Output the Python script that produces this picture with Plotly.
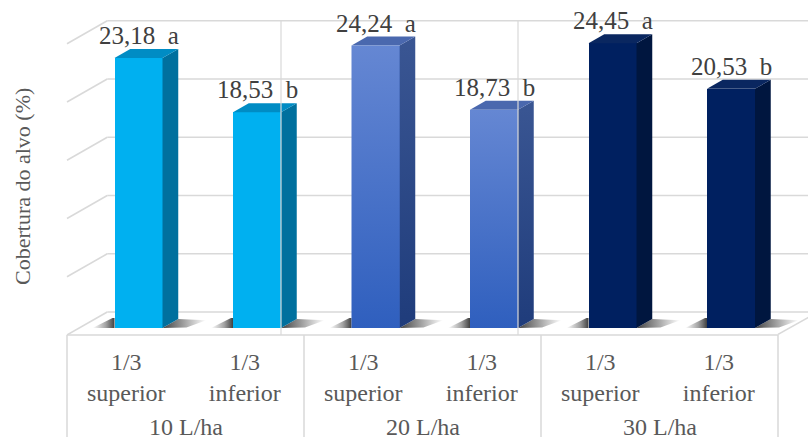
import plotly.graph_objects as go

# ---- data -------------------------------------------------------------
groups = ["10 L/ha", "20 L/ha", "30 L/ha"]
positions = ["1/3<br>superior", "1/3<br>inferior"] * 3
values = [23.18, 18.53, 24.24, 18.73, 24.45, 20.53]
letters = ["a", "b", "a", "b", "a", "b"]
grid_values = [0, 5, 10, 15, 20, 25]
y_title = "Cobertura do alvo (%)"

# ---- styling ----------------------------------------------------------
front_colors = ["#00B0F0", "#3F6AC6", "#002060"]
front_grad = [None, ("#2F5FBE", "#6587D3"), None]
side_colors = ["#00709E", "#2A4886", "#00163F"]
side_grad = [None, ("#1F3C7B", "#3A5693"), None]
top_colors = ["#008CC4", "#4A68AE", "#0A2760"]
grid_color = "#D9D9D9"
serif = "Liberation Serif"

# ---- geometry (oblique 3-D projection) -------------------------------
W, H = 808, 437
PX_X, PX_Y = 118.5, 11.65      # pixels per category / per value unit
LEFT_PX, FLOOR_PX = 67, 335    # left edge of floor, front edge of floor
SLANT = 1.75                   # horizontal shift per pixel of depth
D_FRONT, D_BAR, D_WALL = 7, 9, 23
BAR_W = 48 / PX_X


def ddx(d):
    return d * SLANT / PX_X


def ddy(d):
    return d / PX_Y


x_lo = -0.5 - LEFT_PX / PX_X
x_hi = -0.5 + (W - LEFT_PX) / PX_X
y_hi = FLOOR_PX / PX_Y

xc = [i + ddx(D_FRONT) for i in range(len(values))]
base = ddy(D_FRONT)
bdx, bdy = ddx(D_BAR), ddy(D_BAR)

fig = go.Figure()

# soft floor shadows at each bar foot
for i, v in enumerate(values):
    xl, xr = xc[i] - BAR_W / 2, xc[i] + BAR_W / 2
    y0 = base
    fig.add_trace(go.Scatter(
        x=[xl - 22 / PX_X, xl, xl, xl - 2 / PX_X],
        y=[y0, y0, y0 + 0.85, y0 + 0.85],
        fill="toself", mode="none", hoverinfo="skip", showlegend=False,
        fillgradient=dict(type="horizontal",
                          colorscale=[[0, "rgba(60,60,60,0)"], [0.6, "rgba(50,50,50,0.45)"],
                                      [1, "rgba(30,30,30,0.85)"]]),
    ))
    fig.add_trace(go.Scatter(
        x=[xr, xr + bdx, xr + bdx + 28 / PX_X, xr + 24 / PX_X],
        y=[y0, y0 + bdy, y0 + bdy - 0.1, y0 + 0.05],
        fill="toself", mode="none", hoverinfo="skip", showlegend=False,
        fillgradient=dict(type="horizontal",
                          colorscale=[[0, "rgba(30,30,30,0.85)"], [0.45, "rgba(50,50,50,0.5)"],
                                      [1, "rgba(60,60,60,0)"]]),
    ))

# front faces of the columns
for g in range(3):
    idx = [2 * g, 2 * g + 1]
    fig.add_trace(go.Bar(
        x=[xc[i] for i in idx], y=[values[i] for i in idx],
        base=[base, base], width=BAR_W,
        marker=dict(color=front_colors[g], line=dict(width=0)),
        name=groups[g], showlegend=False, hoverinfo="skip",
    ))

# side and top faces, plus gradient overlay where needed
for i, v in enumerate(values):
    g = i // 2
    xl, xr = xc[i] - BAR_W / 2, xc[i] + BAR_W / 2
    y0, y1 = base, base + v
    side = dict(
        x=[xr, xr, xr + bdx, xr + bdx, xr], y=[y0, y1, y1 + bdy, y0 + bdy, y0],
        fill="toself", mode="none", hoverinfo="skip", showlegend=False,
    )
    if side_grad[g]:
        side["fillgradient"] = dict(type="vertical",
                                    colorscale=[[0, side_grad[g][0]], [1, side_grad[g][1]]])
    else:
        side["fillcolor"] = side_colors[g]
    fig.add_trace(go.Scatter(**side))
    fig.add_trace(go.Scatter(
        x=[xl, xr, xr + bdx, xl + bdx, xl], y=[y1, y1, y1 + bdy, y1 + bdy, y1],
        fill="toself", mode="none", fillcolor=top_colors[g],
        hoverinfo="skip", showlegend=False,
    ))
    if front_grad[g]:
        fig.add_trace(go.Scatter(
            x=[xl, xr, xr, xl, xl], y=[y0, y0, y1, y1, y0],
            fill="toself", mode="none", hoverinfo="skip", showlegend=False,
            fillgradient=dict(type="vertical",
                              colorscale=[[0, front_grad[g][0]], [1, front_grad[g][1]]]),
        ))

# value labels above each column
for i, v in enumerate(values):
    label = f"{v:.2f}".replace(".", ",") + " \u00a0" + letters[i]
    fig.add_annotation(
        x=xc[i], y=base + v + bdy, text=label, showarrow=False,
        yanchor="bottom", xanchor="center", yshift=-2,
        font=dict(family=serif, size=25, color="#404040"),
    )

# back wall and side wall grid, floor outline
shapes = []
wx, wy = ddx(D_WALL), ddy(D_WALL)
for gv in grid_values:
    shapes.append(dict(type="line", xref="x", yref="y", layer="below",
                       x0=-0.5 + wx, x1=x_hi + 1, y0=gv + wy, y1=gv + wy,
                       line=dict(color=grid_color, width=1.5)))
    shapes.append(dict(type="line", xref="x", yref="y", layer="below",
                       x0=-0.5, x1=-0.5 + wx, y0=gv, y1=gv + wy,
                       line=dict(color=grid_color, width=1.5)))
shapes.append(dict(type="line", xref="x", yref="y", layer="below",
                   x0=5.5, x1=5.5 + wx, y0=0.05, y1=wy,
                   line=dict(color=grid_color, width=1.5)))
shapes.append(dict(type="line", xref="x", yref="paper", layer="below",
                   x0=-0.5, x1=5.5, y0=0, y1=0,
                   line=dict(color=grid_color, width=1.5)))

# category table below the floor
for xb in [-0.5, 1.5, 3.5, 5.5]:
    shapes.append(dict(type="line", xref="x", yref="paper",
                       x0=xb, x1=xb, y0=0, y1=-0.4,
                       line=dict(color=grid_color, width=1.5)))

# thin vertical guide lines crossing the inferior columns
for i in [1, 3]:
    xr = xc[i] + BAR_W / 2
    shapes.append(dict(type="line", xref="x", yref="y", layer="above",
                       x0=xr, x1=xr, y0=-0.2, y1=grid_values[-1] + wy,
                       line=dict(color=grid_color, width=1.2)))

for g, name in enumerate(groups):
    fig.add_annotation(
        x=2 * g + 0.5, xref="x", y=-(427 - FLOOR_PX) / FLOOR_PX, yref="paper",
        text=name, showarrow=False, yanchor="middle",
        font=dict(family=serif, size=24, color="#595959"),
    )

fig.add_annotation(
    x=22 / W, xref="paper", y=1 - 187 / FLOOR_PX, yref="paper",
    text=y_title, textangle=-90, showarrow=False,
    xanchor="center", yanchor="middle",
    font=dict(family=serif, size=22, color="#595959"),
)

fig.update_layout(
    width=W, height=H, margin=dict(l=0, r=0, t=0, b=H - FLOOR_PX),
    paper_bgcolor="white", plot_bgcolor="white",
    shapes=shapes, bargap=0, barmode="overlay",
    xaxis=dict(range=[x_lo, x_hi], tickvals=list(range(6)), ticktext=positions,
               showgrid=False, zeroline=False, showline=False, ticks="",
               ticklabelstandoff=10,
               tickfont=dict(family=serif, size=24, color="#595959"),
               fixedrange=True),
    yaxis=dict(range=[0, y_hi], visible=False, fixedrange=True),
)

fig.write_html("out.html")
